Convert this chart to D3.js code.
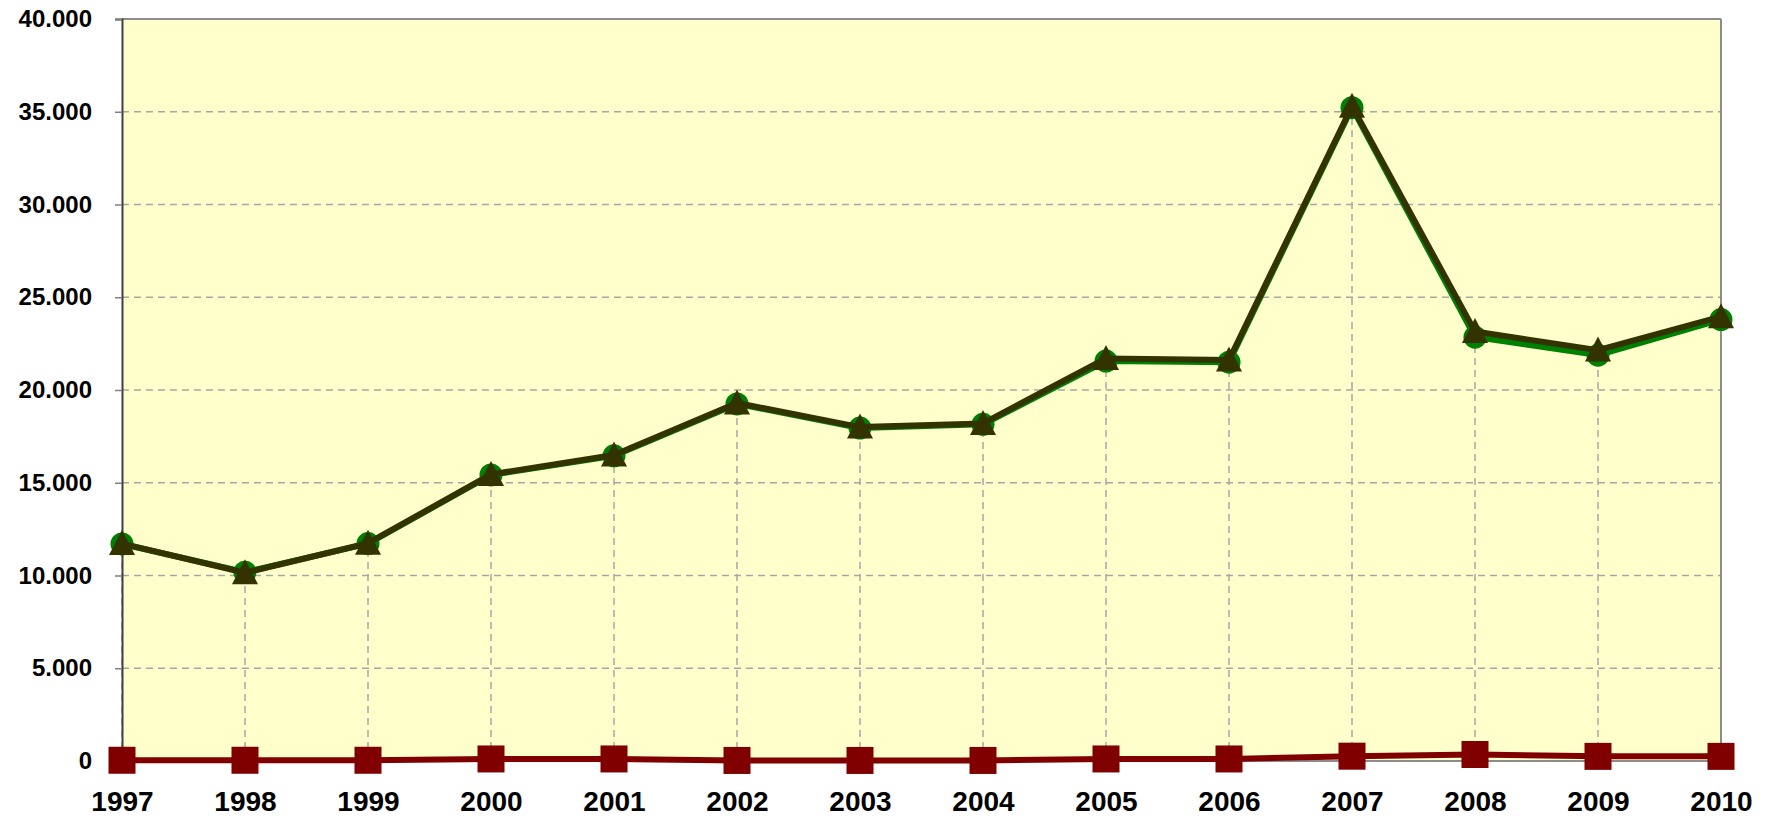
<!DOCTYPE html>
<html>
<head>
<meta charset="utf-8">
<script src="https://cdn.jsdelivr.net/npm/d3@7"></script>
<style>
  body { margin: 0; background: #ffffff; }
  svg { display: block; }
</style>
</head>
<body>
<div id="chart"></div>
<script>
// chart data
var years = ["1997","1998","1999","2000","2001","2002","2003","2004","2005","2006","2007","2008","2009","2010"];
var greenValues = [11700, 10180, 11720, 15420, 16450, 19250, 17950, 18150, 21560, 21500, 35220, 22850, 21880, 23800];
var darkValues  = [11720, 10150, 11740, 15450, 16500, 19300, 18000, 18200, 21700, 21620, 35300, 23150, 22150, 23950];
var redValues   = [40, 40, 40, 110, 110, 30, 30, 30, 110, 110, 260, 350, 250, 250];
var yTicks = [0, 5000, 10000, 15000, 20000, 25000, 30000, 35000, 40000];

var w = 1767, h = 820;
var margin = {top: 19, right: 46, bottom: 59, left: 122};

function init(){

  var svg = d3.select("#chart")
      .append("svg")
      .attr("width", w)
      .attr("height", h);

  // scales
  var xScale = d3.scalePoint()
      .domain(years)
      .range([margin.left, w - margin.right]);

  var yScale = d3.scaleLinear()
      .domain([0, 40000])
      .range([h - margin.bottom, margin.top]);

  // 40.000 style numbers
  var fmt = d3.formatLocale({decimal: ",", thousands: ".", grouping: [3], currency: ["", ""]}).format(",");

  var x0 = xScale.range()[0], x1 = xScale.range()[1];
  var yb = yScale(0), yt = yScale(40000);

  // plot background
  svg.append("rect")
     .attr("x", x0)
     .attr("y", yt)
     .attr("width", x1 - x0)
     .attr("height", yb - yt)
     .attr("fill", "#ffffcc");

  // horizontal dashed grid
  svg.selectAll("line.hgrid")
     .data(yTicks.filter(function(d){ return d > 0 && d < 40000; }))
     .enter()
     .append("line")
     .attr("class", "hgrid")
     .attr("x1", x0)
     .attr("x2", x1)
     .attr("y1", function(d){ return yScale(d); })
     .attr("y2", function(d){ return yScale(d); })
     .attr("stroke", "#a6a6a6")
     .attr("stroke-width", 1.5)
     .attr("stroke-dasharray", "7,5");

  // drop lines from the top point down to the axis
  svg.selectAll("line.drop")
     .data(years)
     .enter()
     .append("line")
     .attr("class", "drop")
     .attr("x1", function(d){ return xScale(d); })
     .attr("x2", function(d){ return xScale(d); })
     .attr("y1", yb)
     .attr("y2", function(d,i){ return yScale(Math.max(greenValues[i], darkValues[i])); })
     .attr("stroke", "#a6a6a6")
     .attr("stroke-width", 1.5)
     .attr("stroke-dasharray", "7,5");

  // frame: top and right border, bottom axis
  svg.append("line")
     .attr("x1", x0).attr("x2", x1).attr("y1", yt).attr("y2", yt)
     .attr("stroke", "#8c8c8c").attr("stroke-width", 2);
  svg.append("line")
     .attr("x1", x1).attr("x2", x1).attr("y1", yt).attr("y2", yb)
     .attr("stroke", "#8c8c8c").attr("stroke-width", 2);
  svg.append("line")
     .attr("x1", x0).attr("x2", x1).attr("y1", yb).attr("y2", yb)
     .attr("stroke", "#8c8c8c").attr("stroke-width", 2);

  // y axis
  var yAxis = svg.append("g")
     .attr("transform", "translate(" + x0 + ",0)")
     .call(d3.axisLeft(yScale).tickValues(yTicks).tickSize(7).tickPadding(23).tickFormat(fmt));
  yAxis.select(".domain").attr("stroke", "#404040").attr("stroke-width", 2);
  yAxis.selectAll(".tick line").attr("stroke", "#808080").attr("stroke-width", 1.5);
  yAxis.selectAll("text")
     .attr("font-family", "'Liberation Sans', Arial, sans-serif")
     .attr("font-weight", "bold")
     .attr("font-size", "24px")
     .attr("fill", "#000");

  // x axis labels
  var xAxis = svg.append("g")
     .attr("transform", "translate(0," + yb + ")")
     .call(d3.axisBottom(xScale).tickSize(0).tickPadding(30));
  xAxis.select(".domain").remove();
  xAxis.selectAll("text")
     .attr("font-family", "'Liberation Sans', Arial, sans-serif")
     .attr("font-weight", "bold")
     .attr("font-size", "28px")
     .attr("fill", "#000");

  var line = d3.line()
      .x(function(d,i){ return xScale(years[i]); })
      .y(function(d){ return yScale(d); });

  // green series with circles
  svg.append("path")
     .datum(greenValues)
     .attr("d", line)
     .attr("fill", "none")
     .attr("stroke", "#008000")
     .attr("stroke-width", 6)
     .attr("stroke-linejoin", "round");
  svg.selectAll("circle.green")
     .data(greenValues)
     .enter()
     .append("circle")
     .attr("class", "green")
     .attr("cx", function(d,i){ return xScale(years[i]); })
     .attr("cy", function(d){ return yScale(d); })
     .attr("r", 11.5)
     .attr("fill", "#008000");

  // dark olive series with triangles
  svg.append("path")
     .datum(darkValues)
     .attr("d", line)
     .attr("fill", "none")
     .attr("stroke", "#333300")
     .attr("stroke-width", 6)
     .attr("stroke-linejoin", "round");

  // excel-like marker: 26 wide, 25 tall, centred on the point
  var excelTriangle = {
    draw: function(context, size){
      var s = Math.sqrt(size);
      context.moveTo(0, -s * 0.5);
      context.lineTo(s * 0.52, s * 0.5);
      context.lineTo(-s * 0.52, s * 0.5);
      context.closePath();
    }
  };
  var tri = d3.symbol().type(excelTriangle).size(625);
  svg.selectAll("path.tri")
     .data(darkValues)
     .enter()
     .append("path")
     .attr("class", "tri")
     .attr("d", tri)
     .attr("transform", function(d,i){ return "translate(" + xScale(years[i]) + "," + (yScale(d) - 1) + ")"; })
     .attr("fill", "#333300");

  // red series with squares
  svg.append("path")
     .datum(redValues)
     .attr("d", line)
     .attr("fill", "none")
     .attr("stroke", "#800000")
     .attr("stroke-width", 6)
     .attr("stroke-linejoin", "round");
  var sq = 27;
  svg.selectAll("rect.red")
     .data(redValues)
     .enter()
     .append("rect")
     .attr("class", "red")
     .attr("x", function(d,i){ return xScale(years[i]) - sq/2; })
     .attr("y", function(d){ return yScale(d) - sq/2; })
     .attr("width", sq)
     .attr("height", sq)
     .attr("fill", "#800000");
}

window.onload = init;
</script>
</body>
</html>
